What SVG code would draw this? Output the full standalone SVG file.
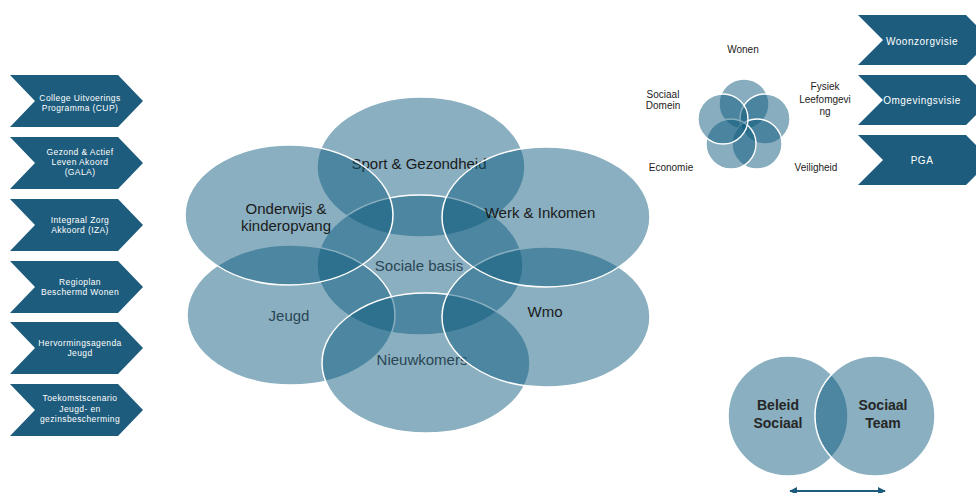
<svg xmlns="http://www.w3.org/2000/svg" width="976" height="493" viewBox="0 0 976 493">
<style>
text{font-family:"Liberation Sans",Arial,sans-serif}
.chev{fill:#1d5c7c}
.ct{fill:#fff;font-size:8.5px;letter-spacing:.4px;text-anchor:middle}
.rt{fill:#fff;font-size:10px;letter-spacing:.5px;text-anchor:middle}
.ov{fill:#0f5b7e;fill-opacity:.49;stroke:#fff;stroke-width:1.5}
.sv{fill:#0f5b7e;fill-opacity:.5;stroke:#fff;stroke-width:1.4}
.bt{fill:#1b1b1b;font-size:15px;text-anchor:middle}
.gt{fill:#2b4654;font-size:15px;text-anchor:middle}
.lt{fill:#1b1b1b;font-size:10px;text-anchor:middle}
.vt{fill:#262626;font-size:14px;font-weight:bold;text-anchor:middle}
</style>
<defs>
<marker id="ah" viewBox="0 0 10 10" refX="9" refY="5" markerWidth="4" markerHeight="4" orient="auto-start-reverse">
<path d="M0,0L10,5L0,10z" fill="#1d5c7c"/>
</marker>
</defs>
<rect width="976" height="493" fill="#fff"/>

<g id="chev-cup">
<polygon class="chev" points="10,75 118,75 143,101 118,127 10,127 35,101"/>
<text class="ct" x="80" y="101">College Uitvoerings</text>
<text class="ct" x="80" y="111">Programma (CUP)</text>
</g>
<g id="chev-gala">
<polygon class="chev" points="10,137 118,137 143,163 118,189 10,189 35,163"/>
<text class="ct" x="80" y="154.5">Gezond &amp; Actief</text>
<text class="ct" x="80" y="164.5">Leven Akoord</text>
<text class="ct" x="80" y="174.5">(GALA)</text>
</g>
<g id="chev-iza">
<polygon class="chev" points="10,199 118,199 143,225 118,251 10,251 35,225"/>
<text class="ct" x="80" y="223">Integraal Zorg</text>
<text class="ct" x="80" y="233">Akkoord (IZA)</text>
</g>
<g id="chev-regio">
<polygon class="chev" points="10,261 118,261 143,287 118,313 10,313 35,287"/>
<text class="ct" x="80" y="284.5">Regioplan</text>
<text class="ct" x="80" y="294.5">Beschermd Wonen</text>
</g>
<g id="chev-herv">
<polygon class="chev" points="10,322 118,322 143,348 118,374 10,374 35,348"/>
<text class="ct" x="80" y="346">Hervormingsagenda</text>
<text class="ct" x="80" y="356">Jeugd</text>
</g>
<g id="chev-toek">
<polygon class="chev" points="10,384 118,384 143,410 118,436 10,436 35,410"/>
<text class="ct" x="80" y="401">Toekomstscenario</text>
<text class="ct" x="80" y="411.5">Jeugd- en</text>
<text class="ct" x="80" y="422">gezinsbescherming</text>
</g>

<g id="chev-woonzorg">
<polygon class="chev" points="858,15 966,15 991,40 966,65 858,65 883,40"/>
<text class="rt" x="922" y="45">Woonzorgvisie</text>
</g>
<g id="chev-omgeving">
<polygon class="chev" points="858,75 966,75 991,100 966,125 858,125 883,100"/>
<text class="rt" x="922" y="103.5">Omgevingsvisie</text>
</g>
<g id="chev-pga">
<polygon class="chev" points="858,135 966,135 991,160 966,185 858,185 883,160"/>
<text class="rt" x="922" y="163.5">PGA</text>
</g>

<g id="venn-sport">
<ellipse class="ov" cx="421" cy="167" rx="104" ry="70"/>
<text class="bt" x="419" y="169">Sport &amp; Gezondheid</text>
</g>
<g id="venn-sociale-basis">
<ellipse class="ov" cx="420" cy="265" rx="103" ry="70"/>
<text class="gt" x="419" y="271">Sociale basis</text>
</g>
<g id="venn-jeugd">
<ellipse class="ov" cx="291" cy="315" rx="104" ry="70"/>
<text class="gt" x="289" y="321">Jeugd</text>
</g>
<g id="venn-nieuwkomers">
<ellipse class="ov" cx="426" cy="363" rx="104" ry="70"/>
<text class="gt" x="422" y="365">Nieuwkomers</text>
</g>
<g id="venn-wmo">
<ellipse class="ov" cx="546" cy="317" rx="104" ry="70"/>
<text class="bt" x="545" y="317">Wmo</text>
</g>
<g id="venn-werk">
<ellipse class="ov" cx="546" cy="217" rx="104" ry="70"/>
<text class="bt" x="540" y="218">Werk &amp; Inkomen</text>
</g>
<g id="venn-onderwijs">
<ellipse class="ov" cx="289" cy="215" rx="104" ry="70"/>
<text class="bt" x="286" y="214">Onderwijs &amp;</text>
<text class="bt" x="286" y="231">kinderopvang</text>
</g>

<g id="small-venn">
<circle class="sv" cx="744" cy="104" r="25"/>
<circle class="sv" cx="765" cy="119" r="25"/>
<circle class="sv" cx="757" cy="144" r="25"/>
<circle class="sv" cx="731" cy="144" r="25"/>
<circle class="sv" cx="723" cy="119" r="25"/>
</g>
<g id="lbl-wonen"><text class="lt" x="743" y="53">Wonen</text></g>
<g id="lbl-sociaal-domein"><text class="lt" x="663" y="98">Sociaal</text><text class="lt" x="663" y="109">Domein</text></g>
<g id="lbl-fysiek"><text class="lt" x="825" y="90">Fysiek</text><text class="lt" x="825" y="103">Leefomgevi</text><text class="lt" x="825" y="115">ng</text></g>
<g id="lbl-economie"><text class="lt" x="671" y="171">Economie</text></g>
<g id="lbl-veiligheid"><text class="lt" x="816" y="171">Veiligheid</text></g>

<g id="beleid-sociaal">
<circle class="ov" cx="788" cy="416" r="60"/>
<text class="vt" x="778" y="410">Beleid</text>
<text class="vt" x="778" y="428">Sociaal</text>
</g>
<g id="sociaal-team">
<circle class="ov" cx="875" cy="416" r="60"/>
<text class="vt" x="883" y="410">Sociaal</text>
<text class="vt" x="883" y="428">Team</text>
</g>

<g id="connectors">
<line x1="790" y1="491" x2="885" y2="491" stroke="#1d5c7c" stroke-width="2" marker-start="url(#ah)" marker-end="url(#ah)"/>
</g>
</svg>
